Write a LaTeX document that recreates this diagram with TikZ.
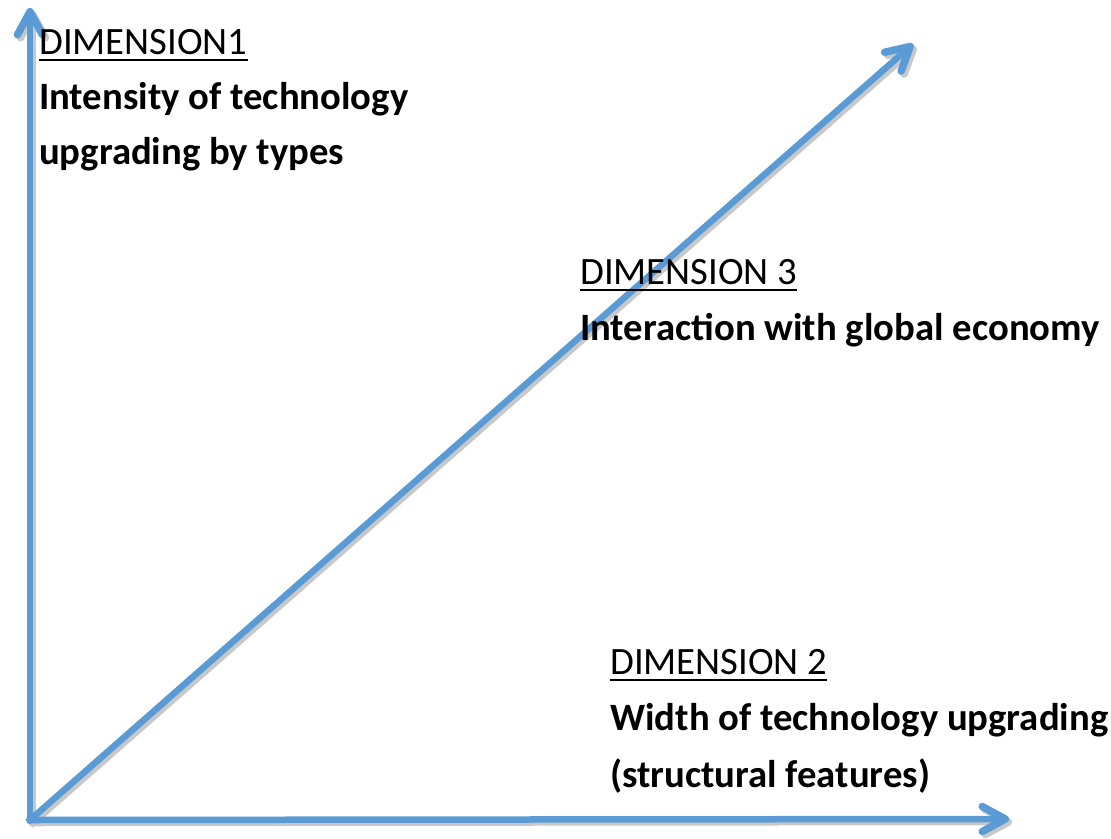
\documentclass[tikz,border=0pt]{standalone}
\usepackage{fontspec}
\setmainfont{Carlito}
\usetikzlibrary{arrows.meta}

\definecolor{axisblue}{RGB}{91,155,213}
\definecolor{shadowgrey}{RGB}{200,200,200}

\tikzset{
	axis/.style = {line width = 6.5pt, line cap = rect,
		-{Straight Barb[length = 23pt, width = 25pt, line width = 7.5pt, line cap = round, line join = round]}},
	heading/.style = {anchor = base west, inner sep = 0pt, font = \fontsize{38.7}{46}\selectfont},
	caption/.style = {heading, font = \fontsize{38.7}{46}\selectfont\bfseries}
}

\begin{document}
\begin{tikzpicture}[x = 1pt, y = -1pt]
			\useasboundingbox (0,0) rectangle (1111,838);

			\coordinate (O) at (30,820);
			\coordinate (Y) at (30,8);
			\coordinate (X) at (1009,819);
			\coordinate (Z) at (913,44);

			% soft shadow first, then the axes on top
			\foreach \tip in {Y,X,Z}
				\draw [axis, shadowgrey] ([shift = {(3,3)}]O) -- ([shift = {(3,3)}]\tip);
			\foreach \tip in {Y,X,Z}
				\draw [axis, axisblue] (O) -- (\tip);

			% labels
			\node [heading] (dimA) at (39,54) {DIMENSION1};
			\node [caption] (dimAa) at (39,109) {Intensity of technology};
			\node [caption] (dimAb) at (39,164) {upgrading by types};

			\node [heading] (dimC) at (580,284) {DIMENSION 3};
			\node [caption] (dimCa) at (580,340) {Interaction with global economy};

			\node [heading] (dimB) at (610,674) {DIMENSION 2};
			\node [caption] (dimBa) at (610,730) {Width of technology upgrading};
			\node [caption] (dimBb) at (610,787) {(structural features)};

			\foreach \n in {dimA,dimB,dimC}
				\draw [line width = 2.5pt] ([yshift = -6pt]\n.base west) -- ([yshift = -6pt]\n.base east);
		\end{tikzpicture}
\end{document}
